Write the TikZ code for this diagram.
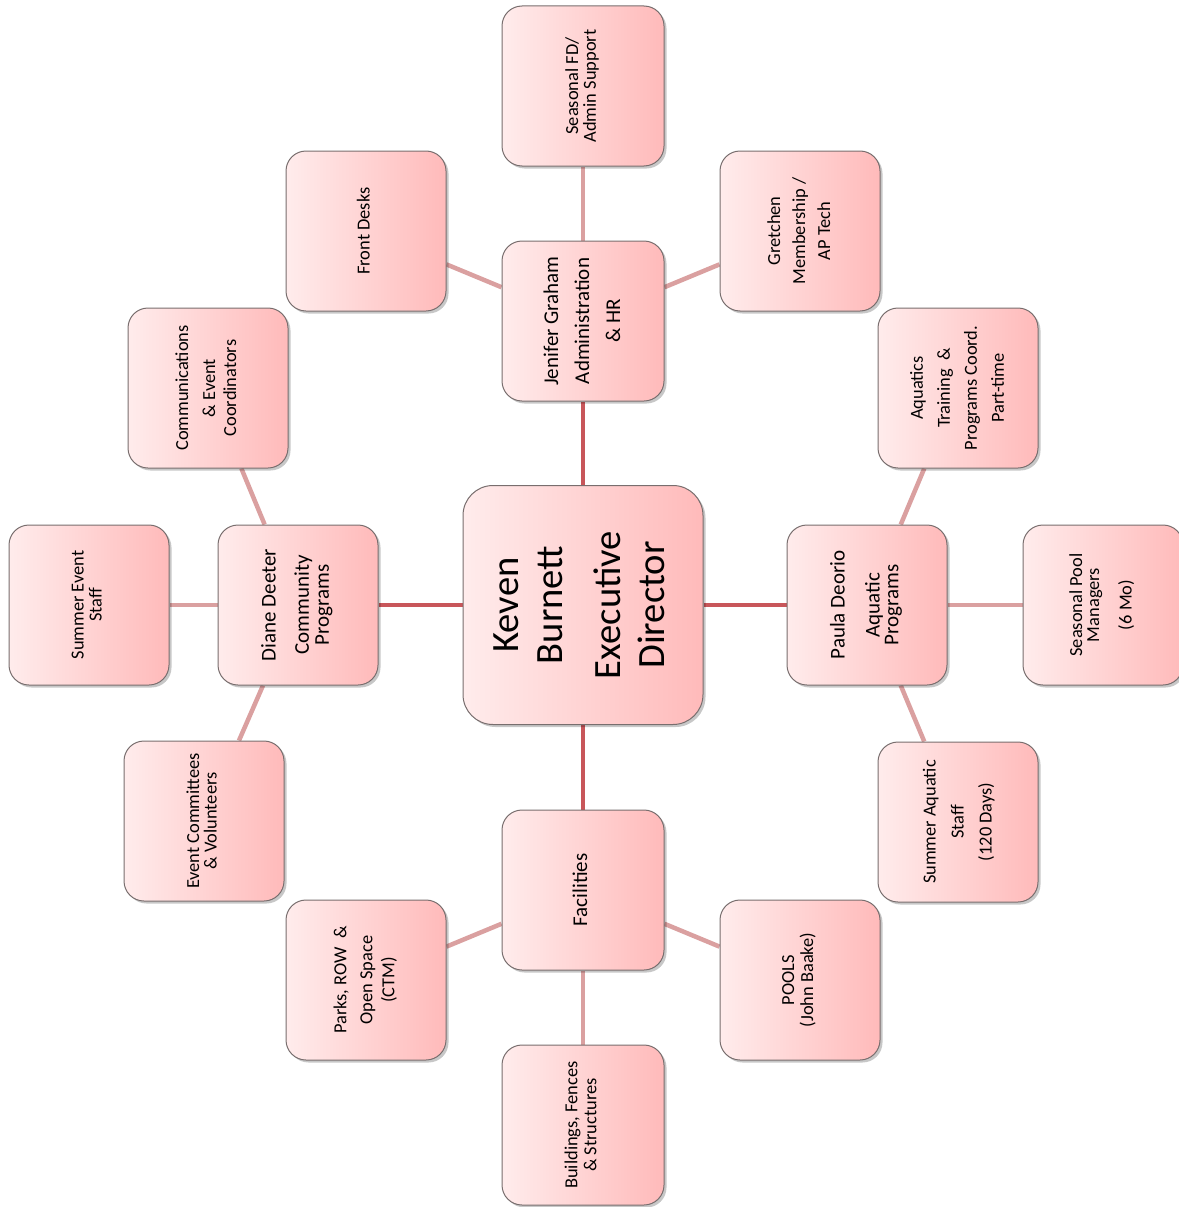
\documentclass[tikz,border=0pt]{standalone}
\usepackage{fontspec}
\usepackage{graphicx}
\setmainfont{Carlito}
\usetikzlibrary{shadows,backgrounds}
\definecolor{boxL}{RGB}{255,236,236}
\definecolor{boxR}{RGB}{255,186,186}
\definecolor{mainline}{RGB}{200,86,90}
\definecolor{subline}{RGB}{218,160,160}
\definecolor{boxborder}{RGB}{120,110,110}
\newcommand\rtxt[3]{\rotatebox{90}{\fontsize{#1}{#2}\selectfont\begin{tabular}{@{}c@{}}#3\end{tabular}}}
\tikzset{
  box/.style={rectangle, rounded corners=20pt, draw=boxborder, line width=1pt,
    left color=boxL, right color=boxR, minimum width=160pt, minimum height=160pt,
    inner sep=0pt, text=black,
    drop shadow={shadow xshift=2.5pt, shadow yshift=-2.5pt, fill=black, opacity=0.22}},
  bigbox/.style={box, rounded corners=30pt, minimum width=240pt, minimum height=239pt},
  mainconn/.style={draw=mainline, line width=4.5pt},
  subconn/.style={draw=subline, line width=4.5pt}
}
\begin{document}
\begin{tikzpicture}[x=1pt,y=-1pt]
\useasboundingbox (0,0) rectangle (1178,1207);
% center
\node[bigbox] (ceo) at (583,605) {\rtxt{38.6}{44}{Keven\\Burnett\\[14pt]Executive\\Director}};
% level 1
\node[box, minimum width=162pt] (jen) at (583,321) {\rtxt{21}{31}{Jenifer Graham\\Administration\\\& HR}};
\node[box] (diane) at (298,605) {\rtxt{21}{20}{Diane Deeter\\[13pt]Community\\Programs}};
\node[box] (paula) at (867,605) {\rtxt{21}{18}{Paula Deorio\\[15pt]Aquatic\\Programs}};
\node[box, minimum width=162pt] (fac) at (583,890) {\rtxt{21}{21}{Facilities}};
% level 2
\node[box, minimum width=162pt] (sfd) at (583,86) {\rtxt{18.4}{16}{Seasonal FD/\\Admin Support}};
\node[box] (front) at (366,231) {\rtxt{18.4}{18}{Front Desks}};
\node[box] (gret) at (800,231) {\rtxt{18.4}{25}{Gretchen\\Membership /\\AP Tech}};
\node[box] (comm) at (208,388) {\rtxt{18.4}{21}{Communications\\[6pt]\& Event\\Coordinators}};
\node[box] (ses) at (89,605) {\rtxt{18.4}{18}{Summer Event\\Staff}};
\node[box] (evc) at (204,821) {\rtxt{18.4}{16}{Event Committees\\\& Volunteers}};
\node[box] (aqt) at (958,388) {\rtxt{18.4}{27}{Aquatics\\Training\ \ \&\\Programs Coord.\\Part-time}};
\node[box] (spm) at (1103,605) {\rtxt{18.4}{17}{Seasonal Pool\\Managers\\[14pt](6 Mo)}};
\node[box] (saq) at (958,822) {\rtxt{18.4}{28}{Summer Aquatic\\Staff\\(120 Days)}};
\node[box] (parks) at (366,980) {\rtxt{18.4}{22}{Parks, ROW\ \ \&\\[4pt]Open Space\\(CTM)}};
\node[box] (pools) at (800,980) {\rtxt{18.4}{18}{POOLS\\(John Baake)}};
\node[box, minimum width=162pt] (bld) at (583,1125) {\rtxt{18.4}{19}{Buildings, Fences\\\& Structures}};
% connectors
\begin{scope}[on background layer]
\draw[mainconn] (ceo) -- (jen);
\draw[mainconn] (ceo) -- (diane);
\draw[mainconn] (ceo) -- (paula);
\draw[mainconn] (ceo) -- (fac);
\draw[subconn] (jen) -- (sfd);
\draw[subconn] (jen) -- (front);
\draw[subconn] (jen) -- (gret);
\draw[subconn] (diane) -- (comm);
\draw[subconn] (diane) -- (ses);
\draw[subconn] (diane) -- (evc);
\draw[subconn] (paula) -- (aqt);
\draw[subconn] (paula) -- (spm);
\draw[subconn] (paula) -- (saq);
\draw[subconn] (fac) -- (parks);
\draw[subconn] (fac) -- (pools);
\draw[subconn] (fac) -- (bld);
\end{scope}
\end{tikzpicture}
\end{document}
